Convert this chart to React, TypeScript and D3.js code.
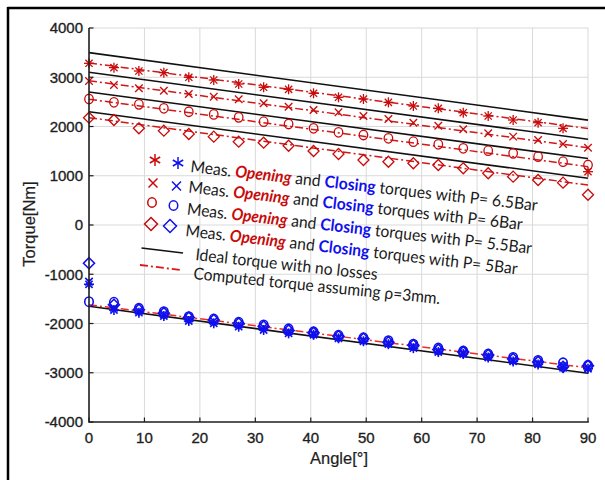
import React from "react";
import * as d3 from "d3";

const angles = [0, 4.5, 9, 13.5, 18, 22.5, 27, 31.5, 36, 40.5, 45, 49.5, 54, 58.5, 63, 67.5, 72, 76.5, 81, 85.5, 90];

// Measured opening torques (red)
const openStar65 = [3283, 3195, 3127, 3093, 2999, 2944, 2863, 2796, 2755, 2674, 2593, 2558, 2491, 2416, 2369, 2280, 2213, 2132, 2077, 1963, 1082];
const openX6 = [2924, 2843, 2776, 2727, 2660, 2605, 2552, 2471, 2402, 2335, 2288, 2213, 2152, 2077, 2016, 1943, 1862, 1794, 1726, 1645, 1570];
const openO55 = [2558, 2491, 2450, 2369, 2300, 2246, 2186, 2098, 2051, 1963, 1882, 1827, 1760, 1692, 1638, 1557, 1509, 1455, 1387, 1285, 1218];
const openD5 = [2179, 2132, 1963, 1915, 1848, 1794, 1692, 1671, 1610, 1503, 1442, 1320, 1285, 1253, 1218, 1151, 1050, 982, 914, 860, 615];

// Measured closing torques (blue)
const closeStar65 = [-1204, -1726, -1780, -1848, -1950, -1996, -2065, -2132, -2200, -2230, -2300, -2360, -2420, -2500, -2580, -2620, -2690, -2770, -2830, -2900, -2920];
const closeX6 = [-1150, -1680, -1740, -1810, -1900, -1950, -2020, -2080, -2160, -2200, -2270, -2330, -2390, -2460, -2550, -2590, -2650, -2740, -2800, -2860, -2890];
const closeO55 = [-1557, -1570, -1692, -1760, -1862, -1909, -1976, -2030, -2110, -2170, -2240, -2290, -2350, -2420, -2500, -2560, -2620, -2690, -2750, -2800, -2850];
const closeD5 = [-776, -1620, -1720, -1790, -1880, -1930, -2000, -2060, -2140, -2190, -2260, -2310, -2380, -2440, -2530, -2580, -2640, -2720, -2780, -2880, -2860];

// Model lines, values at the angles in lineAngles
const lineAngles = [0, 90];
const idealLines = [[3500, 2130], [3100, 1740], [2700, 1350], [2300, 950], [-1650, -3010]];
const computedLines = [[3290, 1960], [2930, 1570], [2555, 1185], [2180, 810], [-1620, -2900]];

const xTicks = [0, 10, 20, 30, 40, 50, 60, 70, 80, 90];
const yTicks = [-4000, -3000, -2000, -1000, 0, 1000, 2000, 3000, 4000];
const pressures = ["6.5", "6", "5.5", "5"];
const markerTypes = ["star", "x", "o", "d"];

const RED = "#c80a0a";
const RED_LINE = "#d01818";
const BLUE = "#1010ee";
const INK = "#1e1e1e";

function Marker({ type, x, y, r, color, sw = 1.2 }: { type: string; x: number; y: number; r: number; color: string; sw?: number }) {
  if (type === "star") {
    const d = r * 0.72;
    return (
      <g stroke={color} strokeWidth={sw} fill="none">
        <line x1={x - r} y1={y} x2={x + r} y2={y} />
        <line x1={x} y1={y - r} x2={x} y2={y + r} />
        <line x1={x - d} y1={y - d} x2={x + d} y2={y + d} />
        <line x1={x - d} y1={y + d} x2={x + d} y2={y - d} />
      </g>
    );
  }
  if (type === "star6") {
    const a = r * Math.cos(Math.PI / 6);
    const b = r * 0.5;
    return (
      <g stroke={color} strokeWidth={sw} fill="none">
        <line x1={x} y1={y - r} x2={x} y2={y + r} />
        <line x1={x - a} y1={y - b} x2={x + a} y2={y + b} />
        <line x1={x - a} y1={y + b} x2={x + a} y2={y - b} />
      </g>
    );
  }
  if (type === "x") {
    const d = r * 0.75;
    return (
      <g stroke={color} strokeWidth={sw} fill="none">
        <line x1={x - d} y1={y - d} x2={x + d} y2={y + d} />
        <line x1={x - d} y1={y + d} x2={x + d} y2={y - d} />
      </g>
    );
  }
  if (type === "o") {
    return <ellipse cx={x} cy={y} rx={r * 0.85} ry={r * 0.95} stroke={color} strokeWidth={sw} fill="none" />;
  }
  return (
    <path d={`M${x},${y - r}L${x + r},${y}L${x},${y + r}L${x - r},${y}Z`} stroke={color} strokeWidth={sw} fill="none" />
  );
}

export default function App() {
  const W = 605, H = 480;
  const x = d3.scaleLinear().domain([0, 90]).range([89, 588]);
  const y = d3.scaleLinear().domain([-4000, 4000]).range([422, 28]);
  const line = d3.line<number>().x((_, i) => x(lineAngles[i])).y((v) => y(v));

  const openSeries = [openStar65, openX6, openO55, openD5];
  const closeSeries = [closeStar65, closeX6, closeO55, closeD5];

  const legendMarkers = [
    { red: [155, 160], blue: [178, 163], type: "star6", r: 6 },
    { red: [153, 183], blue: [176.5, 186], type: "x", r: 6 },
    { red: [152, 202.5], blue: [173.5, 205.5], type: "o", r: 5 },
    { red: [151, 224], blue: [170, 226], type: "d", r: 6.5 },
  ];
  const legendText = [
    { x: 190, y: 172, len: 349, a: 6.4 },
    { x: 188, y: 192.5, len: 336, a: 6.4 },
    { x: 186.5, y: 214.5, len: 347, a: 6.5 },
    { x: 185, y: 236, len: 334, a: 6.6 },
  ];
  const legendFont = "Lato, 'Open Sans', sans-serif";
  const dash = "8,3,2,3";

  return (
    <svg width={W} height={H} style={{ position: "absolute", left: 0, top: 0, background: "#fff" }} fontFamily="'Liberation Sans', Arial, sans-serif">
      <rect x={0} y={0} width={W} height={H} fill="#fff" />
      {/* outer frame */}
      <line x1={7.5} y1={8} x2={W} y2={8} stroke="#000" strokeWidth={2.5} />
      <line x1={8} y1={7} x2={8} y2={H} stroke="#000" strokeWidth={2.5} />

      {/* grid */}
      <g stroke="#d9d9d9" strokeWidth={1}>
        {xTicks.slice(1).map((t) => (
          <line key={"gx" + t} x1={x(t)} y1={y(4000)} x2={x(t)} y2={y(-4000)} />
        ))}
        {yTicks.slice(1).map((t) => (
          <line key={"gy" + t} x1={x(0)} y1={y(t)} x2={x(90)} y2={y(t)} />
        ))}
      </g>

      {/* ideal lines */}
      {idealLines.map((l, i) => (
        <path key={"il" + i} d={line(l) || ""} stroke="#111" strokeWidth={1.6} fill="none" />
      ))}
      {/* computed lines */}
      {computedLines.map((l, i) => (
        <path key={"cl" + i} d={line(l) || ""} stroke={i === 4 ? "#ee2a2a" : RED_LINE} strokeWidth={1.5} fill="none" strokeDasharray={dash} />
      ))}

      {/* opening markers */}
      {openSeries.map((s, si) =>
        s.map((v, i) => (
          <Marker key={"o" + si + "-" + i} type={markerTypes[si]} x={x(angles[i])} y={y(v)} r={si === 3 ? 5.5 : 5} color={RED} sw={1.3} />
        ))
      )}
      {/* closing markers */}
      {closeSeries.map((s, si) =>
        s.map((v, i) => (
          <Marker key={"c" + si + "-" + i} type={markerTypes[si]} x={x(angles[i])} y={y(v)} r={si === 3 ? 5.5 : 5} color={BLUE} sw={1.6} />
        ))
      )}

      {/* axes */}
      <line x1={x(0)} y1={y(4000)} x2={x(0)} y2={y(-4000) + 0.8} stroke={INK} strokeWidth={1.6} />
      <line x1={x(0)} y1={y(-4000)} x2={x(90) + 0.8} y2={y(-4000)} stroke={INK} strokeWidth={1.6} />
      <g stroke={INK} strokeWidth={1.2}>
        {yTicks.map((t) => (
          <line key={"ty" + t} x1={x(0)} y1={y(t)} x2={x(0) + 4.5} y2={y(t)} />
        ))}
        {xTicks.map((t) => (
          <line key={"tx" + t} x1={x(t)} y1={y(-4000)} x2={x(t)} y2={y(-4000) - 4.5} />
        ))}
      </g>
      <g fill={INK} fontSize={15} stroke={INK} strokeWidth={0.35}>
        {yTicks.map((t) => (
          <text key={"ly" + t} x={x(0) - 6} y={y(t) + 5.3} textAnchor="end">{t}</text>
        ))}
        {xTicks.map((t) => (
          <text key={"lx" + t} x={x(t)} y={442.5} textAnchor="middle">{t}</text>
        ))}
      </g>
      <text x={339} y={464} textAnchor="middle" fontSize={16.5} fill={INK} stroke={INK} strokeWidth={0.2}>Angle[°]</text>
      <text transform={`translate(35,224) rotate(-90)`} textAnchor="middle" fontSize={16.5} fill={INK} stroke={INK} strokeWidth={0.2}>Torque[Nm]</text>

      {/* legend */}
      {legendMarkers.map((m, i) => (
        <g key={"lm" + i}>
          <Marker type={m.type} x={m.red[0]} y={m.red[1]} r={m.r} color={RED} sw={1.5} />
          <Marker type={m.type} x={m.blue[0]} y={m.blue[1]} r={m.r} color={BLUE} sw={1.5} />
        </g>
      ))}
      {legendText.map((t, i) => (
        <text key={"lt" + i} transform={`translate(${t.x},${t.y}) rotate(${t.a})`} fontFamily={legendFont} fontSize={16.5} fill="#1a1a1a" textLength={t.len} lengthAdjust="spacingAndGlyphs">
          Meas. <tspan fill={RED} fontWeight="bold" fontStyle="italic">Opening</tspan> and <tspan fill={BLUE} fontWeight="bold">Closing</tspan> torques with P= {pressures[i]}Bar
        </text>
      ))}
      <line x1={141.5} y1={248} x2={183} y2={253} stroke="#111" strokeWidth={1.6} />
      <line x1={140} y1={265} x2={181} y2={270} stroke="#e01515" strokeWidth={1.8} strokeDasharray={dash} />
      <text transform="translate(195,260) rotate(6.3)" fontFamily={legendFont} fontSize={16.5} fill="#1a1a1a" textLength={183} lengthAdjust="spacingAndGlyphs">Ideal torque with no losses</text>
      <text transform="translate(193,279) rotate(5.8)" fontFamily={legendFont} fontSize={16.5} fill="#1a1a1a" textLength={248} lengthAdjust="spacingAndGlyphs">Computed torque assuming ρ=3mm.</text>
    </svg>
  );
}
